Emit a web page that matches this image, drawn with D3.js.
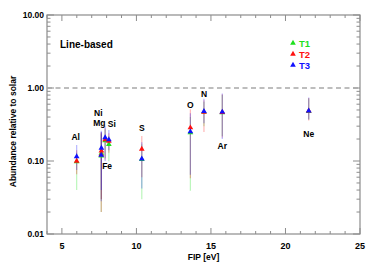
<!DOCTYPE html>
<html lang="en">
<head>
  <meta charset="UTF-8">
  <title>Line-based abundances</title>
  <script src="https://d3js.org/d3.v7.min.js"></script>
  <style>
    html, body {
      margin: 0;
      padding: 0;
      background: #fff;
    }
    svg {
      display: block;
      font-family: 'Liberation Sans', Arial, sans-serif;
    }
    .tick-label, .axis-title, .elem, .legend text, .panel-title {
      font-weight: bold;
      fill: #000;
    }
  </style>
</head>
<body>
<svg width="374" height="267"></svg>
<script>
  // elements and their first ionisation potential [eV]
  const elements = ["Al", "Ni", "Mg", "Fe", "Si", "S", "O", "N", "Ar", "Ne"];
  const fip = [5.99, 7.64, 7.65, 7.90, 8.15, 10.36, 13.62, 14.53, 15.76, 21.56];

  // abundance, lower and upper bound per temperature component
  const t1 = [0.098, 0.118, 0.128, 0.190, 0.169, 0.105, 0.245, 0.470, 0.460, 0.480];
  const t1Lo = [0.040, 0.020, 0.030, 0.110, 0.099, 0.030, 0.039, 0.300, 0.220, 0.370];
  const t1Hi = [0.130, 0.240, 0.230, 0.270, 0.220, 0.170, 0.400, 0.650, 0.800, 0.720];

  const t2 = [0.100, 0.122, 0.138, 0.196, 0.188, 0.146, 0.286, 0.466, 0.465, 0.485];
  const t2Lo = [0.066, 0.020, 0.030, 0.105, 0.130, 0.060, 0.058, 0.250, 0.210, 0.360];
  const t2Hi = [0.140, 0.250, 0.240, 0.280, 0.240, 0.220, 0.510, 0.680, 0.820, 0.730];

  const t3 = [0.115, 0.120, 0.150, 0.209, 0.196, 0.107, 0.252, 0.480, 0.470, 0.486];
  const t3Lo = [0.075, 0.028, 0.040, 0.100, 0.140, 0.042, 0.065, 0.330, 0.200, 0.370];
  const t3Hi = [0.165, 0.260, 0.250, 0.300, 0.265, 0.180, 0.450, 0.715, 0.840, 0.740];

  const xTicks = [5, 10, 15, 20, 25];
  const yTicks = [0.01, 0.1, 1, 10];
  const seriesNames = ["T1", "T2", "T3"];

  const series = [
    { name: "T1", color: "#1ee01e", v: t1, lo: t1Lo, hi: t1Hi },
    { name: "T2", color: "#ff1010", v: t2, lo: t2Lo, hi: t2Hi },
    { name: "T3", color: "#1010ff", v: t3, lo: t3Lo, hi: t3Hi }
  ];

  // label offsets from the T3 marker, in pixels
  const labelOffset = {
    Al: [-1, -20], Ni: [-3, -42], Mg: [-2, -25], Fe: [2, 28], Si: [3, -16],
    S: [0, -31], O: [0, -27], N: [0, -17], Ar: [0, 34], Ne: [0, 23]
  };

  const svg = d3.select("svg");
  const margin = { top: 15, right: 14, bottom: 33, left: 47 };
  const W = 374, H = 267;
  const innerW = W - margin.left - margin.right;
  const innerH = H - margin.top - margin.bottom;

  const x = d3.scaleLinear().domain([4, 25]).range([margin.left, margin.left + innerW]);
  const y = d3.scaleLog().domain([0.01, 10]).range([margin.top + innerH, margin.top]);

  const axisColor = "#8c8c8c";
  const g = svg.append("g");

  // minor ticks
  const xMinor = d3.range(4, 26, 1).filter(d => !xTicks.includes(d));
  const yMinor = [];
  [0.01, 0.1, 1].forEach(dec => d3.range(2, 10).forEach(k => yMinor.push(dec * k)));

  const x0 = x.range()[0], x1 = x.range()[1];
  const y0 = y.range()[0], y1 = y.range()[1];

  // bottom/top ticks
  [[xTicks, 6], [xMinor, 3]].forEach(([ticks, len]) => {
    g.selectAll(null).data(ticks).join("line")
      .attr("x1", d => x(d)).attr("x2", d => x(d))
      .attr("y1", y0).attr("y2", y0 - len)
      .attr("stroke", axisColor);
    g.selectAll(null).data(ticks).join("line")
      .attr("x1", d => x(d)).attr("x2", d => x(d))
      .attr("y1", y1).attr("y2", y1 + len)
      .attr("stroke", axisColor);
  });
  // left/right ticks
  [[yTicks, 7], [yMinor, 3.5]].forEach(([ticks, len]) => {
    g.selectAll(null).data(ticks).join("line")
      .attr("y1", d => y(d)).attr("y2", d => y(d))
      .attr("x1", x0).attr("x2", x0 + len)
      .attr("stroke", axisColor);
    g.selectAll(null).data(ticks).join("line")
      .attr("y1", d => y(d)).attr("y2", d => y(d))
      .attr("x1", x1).attr("x2", x1 - len)
      .attr("stroke", axisColor);
  });

  // frame
  g.append("rect")
    .attr("x", x0).attr("y", y1)
    .attr("width", x1 - x0).attr("height", y0 - y1)
    .attr("fill", "none").attr("stroke", axisColor).attr("stroke-width", 1.2);

  // tick labels
  g.selectAll(null).data(xTicks).join("text")
    .attr("class", "tick-label")
    .attr("x", d => x(d)).attr("y", y0 + 15)
    .attr("text-anchor", "middle")
    .attr("font-size", 9)
    .text(d => d);
  g.selectAll(null).data(yTicks).join("text")
    .attr("class", "tick-label")
    .attr("x", x0 - 3).attr("y", d => y(d) + 3)
    .attr("text-anchor", "end")
    .attr("font-size", 8.5)
    .text(d => d.toFixed(2));

  // axis titles
  g.append("text").attr("class", "axis-title")
    .attr("x", (x0 + x1) / 2).attr("y", 260)
    .attr("text-anchor", "middle").attr("font-size", 8.5)
    .text("FIP [eV]");
  g.append("text").attr("class", "axis-title")
    .attr("transform", `translate(16, ${(y0 + y1) / 2 + 7}) rotate(-90)`)
    .attr("text-anchor", "middle").attr("font-size", 8.5)
    .text("Abundance relative to solar");

  // reference line at solar
  g.append("line")
    .attr("x1", x0).attr("x2", x1)
    .attr("y1", y(1)).attr("y2", y(1))
    .attr("stroke", "#a8a8a8").attr("stroke-width", 1.3)
    .attr("stroke-dasharray", "5,3.5");

  // panel title
  g.append("text").attr("class", "panel-title")
    .attr("x", 60).attr("y", 48)
    .attr("font-size", 10)
    .text("Line-based");

  // error bars
  series.forEach(s => {
    g.selectAll(null).data(elements).join("line")
      .attr("x1", (d, i) => x(fip[i])).attr("x2", (d, i) => x(fip[i]))
      .attr("y1", (d, i) => y(s.lo[i])).attr("y2", (d, i) => y(s.hi[i]))
      .attr("stroke", s.color).attr("stroke-opacity", 0.3)
      .attr("stroke-width", 1.2);
  });

  const tri = d3.symbol().type(d3.symbolTriangle).size(14);

  // markers
  series.forEach(s => {
    g.selectAll(null).data(elements).join("path")
      .attr("d", tri)
      .attr("transform", (d, i) => `translate(${x(fip[i])},${y(s.v[i])})`)
      .attr("fill", s.color);
  });

  // element labels
  g.selectAll(null).data(elements).join("text")
    .attr("class", "elem")
    .attr("x", (d, i) => x(fip[i]) + labelOffset[d][0])
    .attr("y", (d, i) => y(t3[i]) + labelOffset[d][1] + 3)
    .attr("text-anchor", "middle")
    .attr("font-size", 8.5)
    .text(d => d);

  // legend
  const legend = g.append("g").attr("class", "legend");
  series.forEach((s, k) => {
    const ly = 43 + k * 11;
    legend.append("path").attr("d", tri)
      .attr("transform", `translate(293,${ly})`)
      .attr("fill", s.color);
    legend.append("text")
      .attr("x", 299).attr("y", ly + 3.5)
      .attr("font-size", 9.5)
      .style("fill", s.color)
      .text(seriesNames[k]);
  });
</script>
</body>
</html>
